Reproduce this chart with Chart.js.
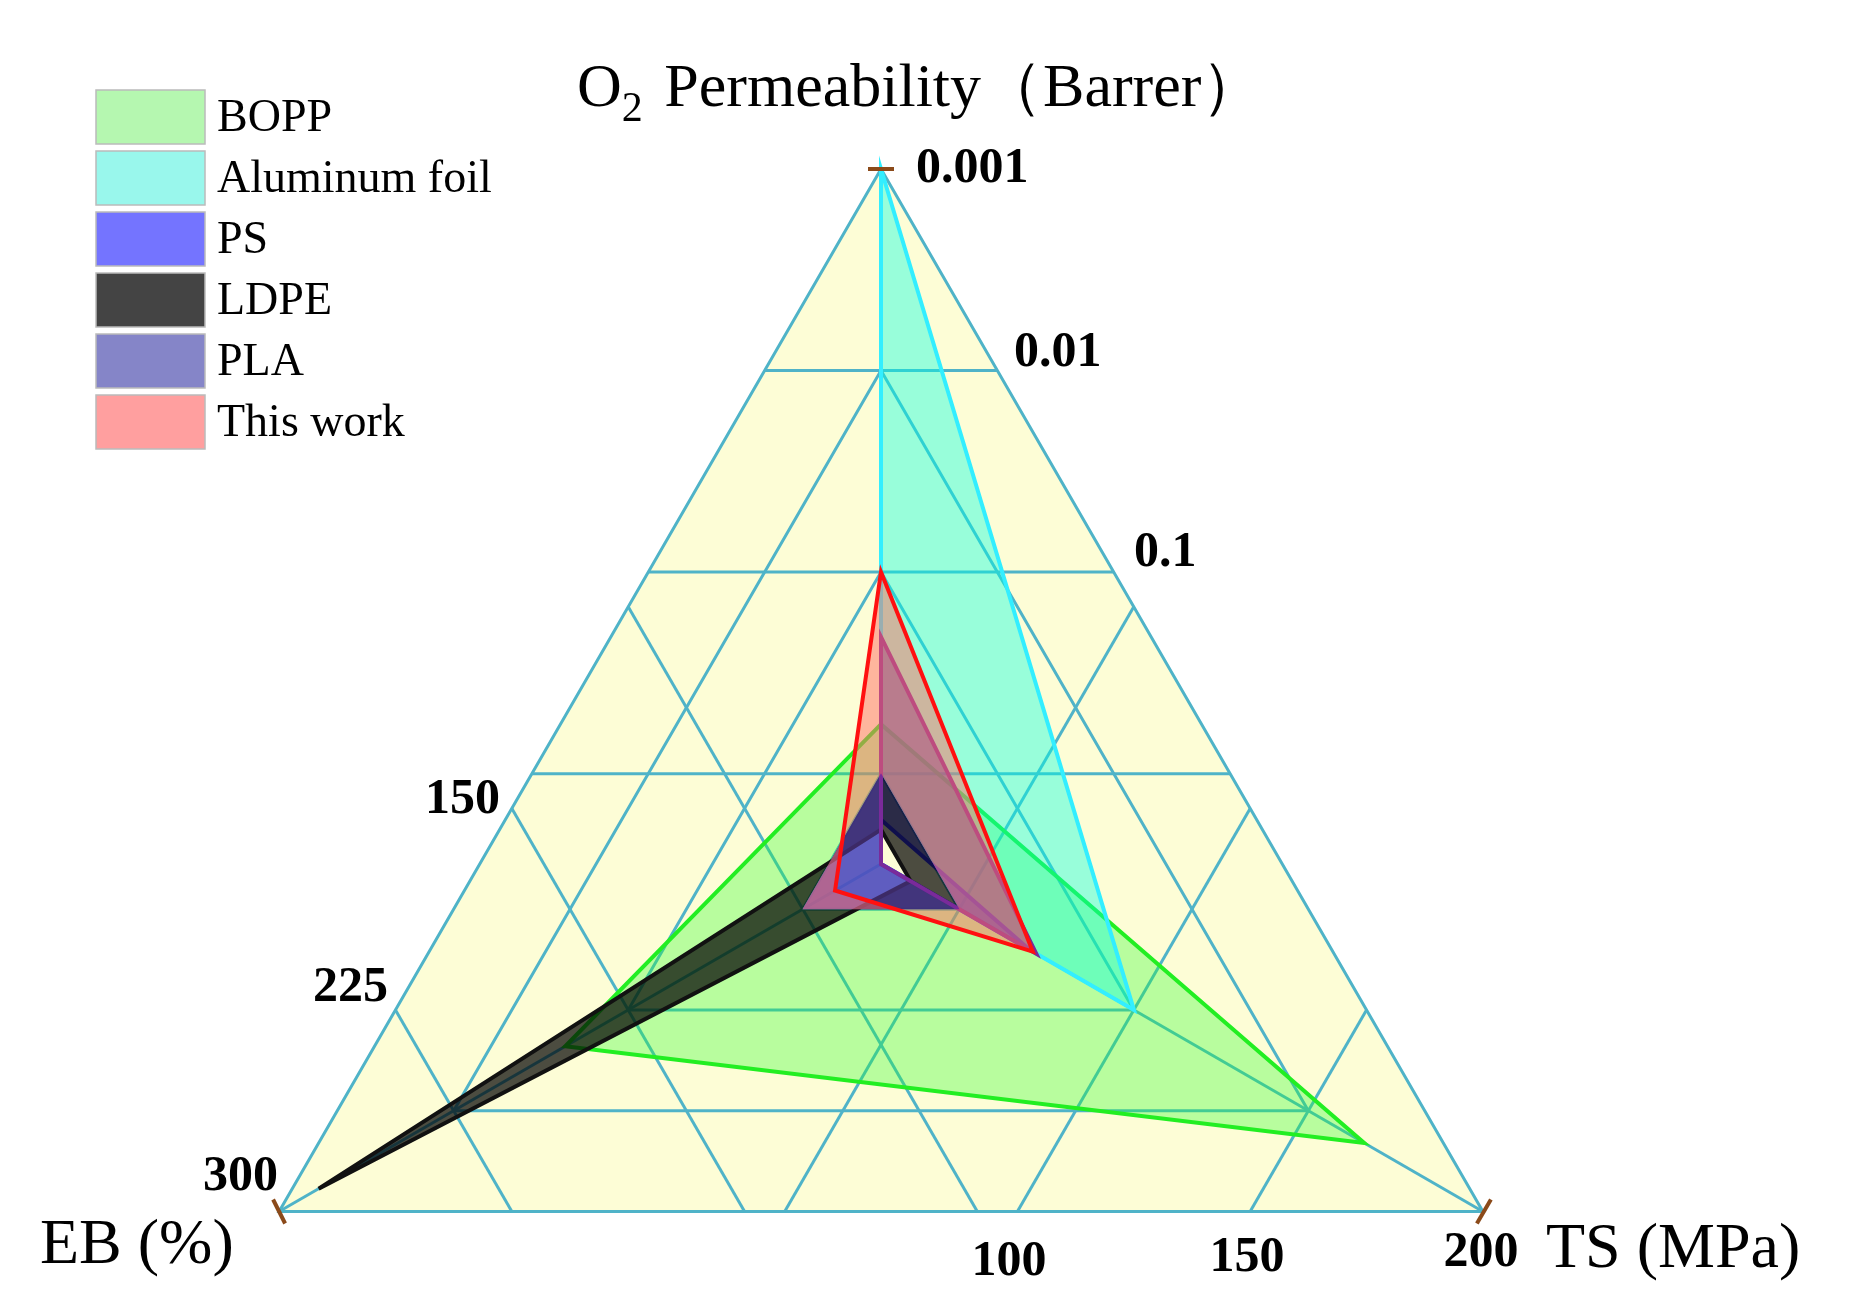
<!DOCTYPE html>
<html><head><meta charset="utf-8">
<script src="https://cdn.jsdelivr.net/npm/chart.js@4"></script>
<style>html,body{margin:0;padding:0;background:#fff}#wrap{width:1854px;height:1315px}</style>
</head><body><div id="wrap"><canvas id="c"></canvas></div>
<script>
const axes = ['O2 Permeability (Barrer)', 'TS (MPa)', 'EB (%)'];
const series = ['BOPP', 'Aluminum foil', 'PS', 'LDPE', 'PLA', 'This work'];
const o2Values = [0.57, 0.001, 1.7, 1.9, 0.21, 0.1];
const tsValues = [166, 100, 70, 36, 72, 71];
const ebValues = [177, 2, 3, 283, 6, 61];
const o2Ticks = ['0.001', '0.01', '0.1'];
const tsTicks = ['100', '150', '200'];
const ebTicks = ['150', '225', '300'];

const MIN = -0.45, MAX = 3;
const clampS = s => Math.max(MIN, Math.min(MAX, s));
const sO2 = p => clampS(-Math.log10(p));
const sTS = v => clampS(1 + (v - 100) / 50);
const sEB = v => clampS(1 + (v - 150) / 75);

const fills = ['rgba(40,255,40,0.32)','rgba(0,255,225,0.4)','rgba(70,70,255,0.6)','rgba(0,0,0,0.7)','rgba(90,60,160,0.6)','rgba(255,110,100,0.5)'];
const borders = ['#22ee22','#33eeff','#3333ff','#111111','#7a2a9a','#ff1010'];
const legendFills = ['#b5f7b0','#99f7ec','#7474ff','#444444','#8585c8','#ff9f9f'];

const datasets = series.map((name, i) => ({
  label: name,
  data: [sO2(o2Values[i]), sTS(tsValues[i]), sEB(ebValues[i])],
  backgroundColor: fills[i], borderColor: borders[i], borderWidth: 4,
  pointRadius: 0, fill: true, order: series.length - 1 - i
}));

const GRID = '#4fb3c8';
const rings = [0.13, 0.42, 0.71, 1.0];
const CX = 881, CY = 864, RAD = 695;

const plugin = {
  id: 'custom',
  afterLayout(chart) {
    const r = chart.scales.r;
    r.xCenter = CX; r.yCenter = CY; r.drawingArea = RAD;
  },
  beforeDatasetsDraw(chart) {
    const r = chart.scales.r, ctx = chart.ctx;
    const P = (k, f) => r.getPointPosition(k, f * RAD);
    const V = [P(0,1), P(1,1), P(2,1)];
    ctx.save();
    ctx.beginPath(); V.forEach((p,i)=> i?ctx.lineTo(p.x,p.y):ctx.moveTo(p.x,p.y)); ctx.closePath();
    ctx.fillStyle = '#fdfdd6'; ctx.fill();
    ctx.strokeStyle = GRID; ctx.lineWidth = 3;
    rings.forEach(f => {
      ctx.beginPath();
      [0,1,2].forEach(k => { const p = P(k,f); k?ctx.lineTo(p.x,p.y):ctx.moveTo(p.x,p.y); });
      ctx.closePath(); ctx.stroke();
    });
    [0,1,2].forEach(k => { const p = P(k,1); ctx.beginPath(); ctx.moveTo(CX,CY); ctx.lineTo(p.x,p.y); ctx.stroke(); });
    // ternary-style lines parallel to the opposite side
    rings.slice(0,3).forEach(f => {
      const b = 1/3 + 2*f/3;
      [0,1,2].forEach(k => {
        const T = V[k], A = V[(k+1)%3], B = V[(k+2)%3];
        ctx.beginPath();
        ctx.moveTo(b*T.x+(1-b)*A.x, b*T.y+(1-b)*A.y);
        ctx.lineTo(b*T.x+(1-b)*B.x, b*T.y+(1-b)*B.y);
        ctx.stroke();
      });
    });
    ctx.restore();
  },
  afterDraw(chart) {
    const ctx = chart.ctx, r = chart.scales.r;
    const V = [0,1,2].map(k => r.getPointPosition(k, RAD));
    ctx.save();
    ctx.strokeStyle = '#8b4a1a'; ctx.lineWidth = 4;
    ctx.beginPath(); ctx.moveTo(V[0].x-13, V[0].y); ctx.lineTo(V[0].x+13, V[0].y); ctx.stroke();
    ctx.beginPath(); ctx.moveTo(V[1].x-6, V[1].y+12); ctx.lineTo(V[1].x+8, V[1].y-12); ctx.stroke();
    ctx.beginPath(); ctx.moveTo(V[2].x-6, V[2].y-12); ctx.lineTo(V[2].x+6, V[2].y+12); ctx.stroke();
    ctx.fillStyle = '#000'; ctx.textBaseline = 'middle';
    const F = 'Liberation Serif';
    // title
    ctx.font = `62px "${F}"`; ctx.textAlign = 'left';
    let x = 577, y = 90;
    ctx.fillText('O', x, y); x += ctx.measureText('O').width;
    ctx.font = `42px "${F}"`; ctx.fillText('2', x, y + 20); x += ctx.measureText('2').width + 6;
    ctx.font = `62px "${F}"`; ctx.fillText(' Permeability\uFF08Barrer\uFF09', x, y);
    // ticks
    ctx.font = `bold 50px "${F}"`;
    ctx.textAlign = 'left';
    [[o2Ticks[0],916,169],[o2Ticks[1],1014,353],[o2Ticks[2],1134,553]].forEach(t=>ctx.fillText(t[0],t[1],t[2]));
    ctx.textAlign = 'right';
    [[ebTicks[0],500,800],[ebTicks[1],388,988],[ebTicks[2],278,1177]].forEach(t=>ctx.fillText(t[0],t[1],t[2]));
    ctx.textAlign = 'center';
    [[tsTicks[0],1009,1262],[tsTicks[1],1247,1258],[tsTicks[2],1481,1253]].forEach(t=>ctx.fillText(t[0],t[1],t[2]));
    ctx.font = `64px "${F}"`; ctx.textAlign = 'left';
    ctx.fillText(axes[2], 40, 1246);
    ctx.fillText(axes[1], 1546, 1250);
    // legend
    ctx.font = `46px "${F}"`;
    series.forEach((s, i) => {
      const cy = 117 + i * 61;
      ctx.fillStyle = legendFills[i]; ctx.fillRect(96, cy - 27, 109, 54);
      ctx.strokeStyle = '#bbbbbb'; ctx.lineWidth = 1.5; ctx.strokeRect(96, cy - 27, 109, 54);
      ctx.fillStyle = '#000'; ctx.fillText(s, 217, cy + 2);
    });
    ctx.restore();
  }
};

new Chart(document.getElementById('c'), {
  type: 'radar',
  data: { labels: axes, datasets },
  options: {
    responsive: true, maintainAspectRatio: false, animation: false,
    layout: { padding: 0 },
    plugins: { legend: { display: false }, tooltip: { enabled: false } },
    elements: { line: { tension: 0 } },
    scales: { r: { min: MIN, max: MAX,
      grid: { display: false }, angleLines: { display: false },
      ticks: { display: false }, pointLabels: { display: false } } }
  },
  plugins: [plugin]
});
</script></body></html>
